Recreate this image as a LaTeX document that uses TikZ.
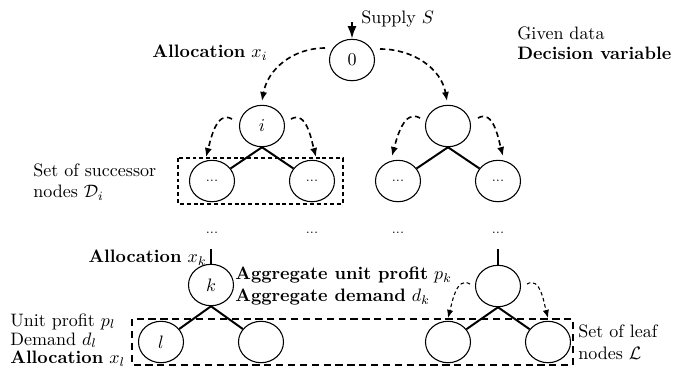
\documentclass[tikz,border=0pt]{standalone}
\usetikzlibrary{shapes.geometric,arrows.meta,calc}
\begin{document}
\begin{tikzpicture}[x=0.5556pt,y=0.5556pt,
  tnode/.style={draw,ellipse,line width=0.6pt,minimum width=25pt,minimum height=23pt,inner sep=0pt},
  edge/.style={line width=1.1pt},
  darr/.style={dash pattern=on 3pt off 2pt,line width=0.9pt,-{Latex[length=5pt,width=4pt]}},
  darrthin/.style={dash pattern=on 2pt off 1.5pt,line width=0.6pt,-{Latex[length=4.5pt,width=3.5pt]}},
  lbl/.style={inner sep=0pt},
  dotlbl/.style={font=\scriptsize,inner sep=0pt}]
\useasboundingbox (0,0) rectangle (678,-370);

% tree nodes
\node[tnode] (n0) at (352,-60) {0};
\node[tnode] (n1) at (262,-126) {$i$};
\node[tnode] (n2) at (448,-126) {};
\node[tnode] (c11) at (212,-181) {\scriptsize ...};
\node[tnode] (c12) at (312,-181) {\scriptsize ...};
\node[tnode] (c21) at (398,-181) {\scriptsize ...};
\node[tnode] (c22) at (498,-181) {\scriptsize ...};
\node[dotlbl] (d1) at (212,-233) {...};
\node[dotlbl] (d2) at (312,-233) {...};
\node[dotlbl] (d3) at (398,-233) {...};
\node[dotlbl] (d4) at (498,-233) {...};
\node[tnode] (k) at (211,-285) {$k$};
\node[tnode] (r3) at (498,-286) {};
\node[tnode] (l1) at (161,-342) {$l$};
\node[tnode] (l2) at (261,-342) {};
\node[tnode] (l3) at (448,-342) {};
\node[tnode] (l4) at (548,-342) {};

% solid edges
\draw[edge] (n1.south) -- (c11);
\draw[edge] (n1.south) -- (c12);
\draw[edge] (n2.south) -- (c21);
\draw[edge] (n2.south) -- (c22);
\draw[edge] (k.south) -- (l1);
\draw[edge] (k.south) -- (l2);
\draw[edge] (r3.south) -- (l3);
\draw[edge] (r3.south) -- (l4);
\coordinate (kt) at (211,-249);
\coordinate (rt) at (498,-249);
\draw[edge] (kt) -- (k.north);
\draw[edge] (rt) -- (r3.north);

% supply arrow
\coordinate (st) at (352,-22);
\draw[line width=1.2pt,-{Latex[length=7pt,width=5pt]}] (st) -- (n0.north);

% dashed allocation arrows
\coordinate (s0L) at (325,-48);
\coordinate (e0L) at (262,-101);
\coordinate (s0R) at (380,-49);
\coordinate (e0R) at (447,-101);
\draw[darr] (s0L) to[out=180,in=80] (e0L);
\draw[darr] (s0R) to[out=0,in=100] (e0R);

\coordinate (s1L) at (232,-119);
\coordinate (e1L) at (206,-157);
\coordinate (s1R) at (291,-119);
\coordinate (e1R) at (316,-157);
\draw[darr] (s1L) to[out=150,in=75] (e1L);
\draw[darr] (s1R) to[out=30,in=105] (e1R);

\coordinate (s2L) at (420,-118);
\coordinate (e2L) at (392,-156);
\coordinate (s2R) at (478,-118);
\coordinate (e2R) at (503,-156);
\draw[darr] (s2L) to[out=150,in=75] (e2L);
\draw[darr] (s2R) to[out=30,in=105] (e2R);

\coordinate (s3L) at (470,-284);
\coordinate (e3L) at (448,-318);
\coordinate (s3R) at (527,-284);
\coordinate (e3R) at (548,-318);
\draw[darrthin] (s3L) to[out=150,in=75] (e3L);
\draw[darrthin] (s3R) to[out=30,in=105] (e3R);

% dashed boxes
\coordinate (b1a) at (178,-158);
\coordinate (b1b) at (343,-204);
\draw[line width=0.6pt,dash pattern=on 2.2pt off 1.6pt] (b1a) rectangle (b1b);
\coordinate (b2a) at (132,-319);
\coordinate (b2b) at (573,-365);
\draw[line width=1pt,dash pattern=on 4pt off 2.6pt] (b2a) rectangle (b2b);

% labels
\node[lbl,anchor=west] (supply) at (361,-19) {Supply $S$};
\node[lbl,anchor=west] (given) at (517,-33) {Given data};
\node[lbl,anchor=west] (decvar) at (517,-53) {\textbf{Decision variable}};
\node[lbl,anchor=east] (alloci) at (268,-53) {\textbf{Allocation} $x_i$};
\node[lbl,anchor=west,align=left] (succ) at (33,-182) {Set of successor\\nodes $\mathcal{D}_i$};
\node[lbl,anchor=east] (allock) at (207,-258) {\textbf{Allocation} $x_k$};
\node[lbl,anchor=west,align=left] (aggr) at (235,-286) {\textbf{Aggregate unit profit} $p_k$\\\textbf{Aggregate demand} $d_k$};
\node[lbl,anchor=west,align=left] (leafdata) at (10,-340) {Unit profit $p_l$\\[-1.5pt]Demand $d_l$\\[-1.5pt]\textbf{Allocation} $x_l$};
\node[lbl,anchor=west,align=left] (leafset) at (578,-342) {Set of leaf\\nodes $\mathcal{L}$};
\end{tikzpicture}
\end{document}
